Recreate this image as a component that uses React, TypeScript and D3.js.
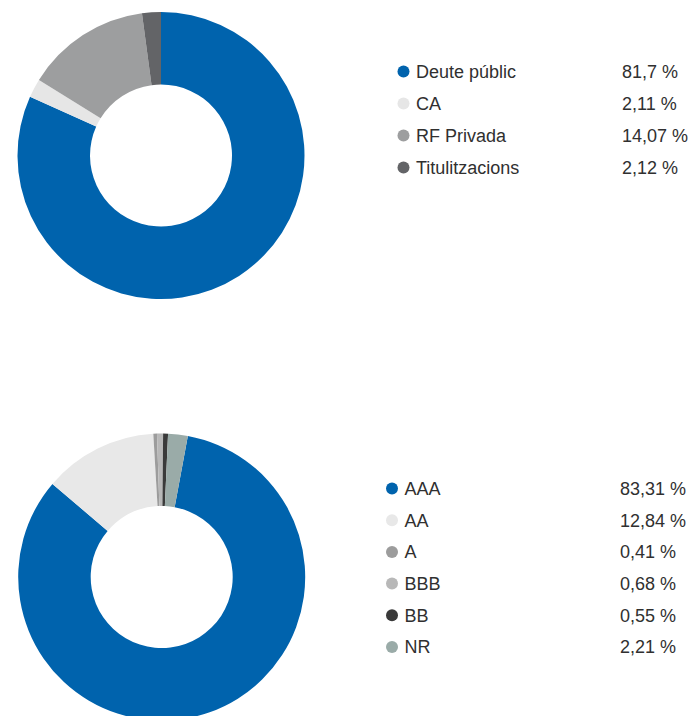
import React from "react";
import * as d3 from "d3";

const typeLabels = ["Deute públic", "CA", "RF Privada", "Titulitzacions"];
const typeValues = [81.7, 2.11, 14.07, 2.12];
const typeValueLabels = ["81,7 %", "2,11 %", "14,07 %", "2,12 %"];
const typeColors = ["#0063ad", "#e6e6e6", "#9d9e9f", "#636467"];

const ratingLabels = ["AAA", "AA", "A", "BBB", "BB", "NR"];
const ratingValues = [83.31, 12.84, 0.41, 0.68, 0.55, 2.21];
const ratingValueLabels = ["83,31 %", "12,84 %", "0,41 %", "0,68 %", "0,55 %", "2,21 %"];
const ratingColors = ["#0063ad", "#e8e8e8", "#9c9c9c", "#b8b8b8", "#3a3a3a", "#9aaba8"];

const W = 695;
const H = 716;
const FONT = "'Liberation Sans', Arial, sans-serif";

type DonutProps = {
  cx: number;
  cy: number;
  values: number[];
  colors: string[];
  startDeg: number;
};

function Donut({ cx, cy, values, colors, startDeg }: DonutProps) {
  const start = (startDeg * Math.PI) / 180;
  const pie = d3
    .pie<number>()
    .sort(null)
    .value((d) => d)
    .startAngle(start)
    .endAngle(start + 2 * Math.PI);
  const arc = d3.arc<d3.PieArcDatum<number>>().innerRadius(71).outerRadius(143.5);
  const arcs = pie(values);
  return (
    <g transform={`translate(${cx},${cy})`}>
      {arcs.map((a, i) => (
        <path key={i} d={arc(a) || ""} fill={colors[i]} />
      ))}
    </g>
  );
}

type LegendProps = {
  x: number;
  y: number;
  step: number;
  labels: string[];
  valueLabels: string[];
  colors: string[];
  valueX: number;
};

function Legend({ x, y, step, labels, valueLabels, colors, valueX }: LegendProps) {
  const ys = d3.range(labels.length).map((i) => y + i * step);
  return (
    <g fontFamily={FONT} fontSize={18} fill="#303030">
      {labels.map((l, i) => (
        <g key={l}>
          <circle cx={x} cy={ys[i]} r={6} fill={colors[i]} />
          <text x={x + 12.5} y={ys[i]} dy="0.36em">
            {l}
          </text>
          <text x={valueX} y={ys[i]} dy="0.36em">
            {valueLabels[i]}
          </text>
        </g>
      ))}
    </g>
  );
}

export default function App() {
  return (
    <svg
      width={W}
      height={H}
      viewBox={`0 0 ${W} ${H}`}
      style={{ position: "absolute", left: 0, top: 0, background: "#fff" }}
    >
      <Donut cx={161} cy={155.5} values={typeValues} colors={typeColors} startDeg={0} />
      <Legend
        x={403.5}
        y={71.5}
        step={32}
        labels={typeLabels}
        valueLabels={typeValueLabels}
        colors={typeColors}
        valueX={622}
      />
      <Donut cx={161.7} cy={577} values={ratingValues} colors={ratingColors} startDeg={10.5} />
      <Legend
        x={392}
        y={488.5}
        step={31.7}
        labels={ratingLabels}
        valueLabels={ratingValueLabels}
        colors={ratingColors}
        valueX={620}
      />
    </svg>
  );
}
